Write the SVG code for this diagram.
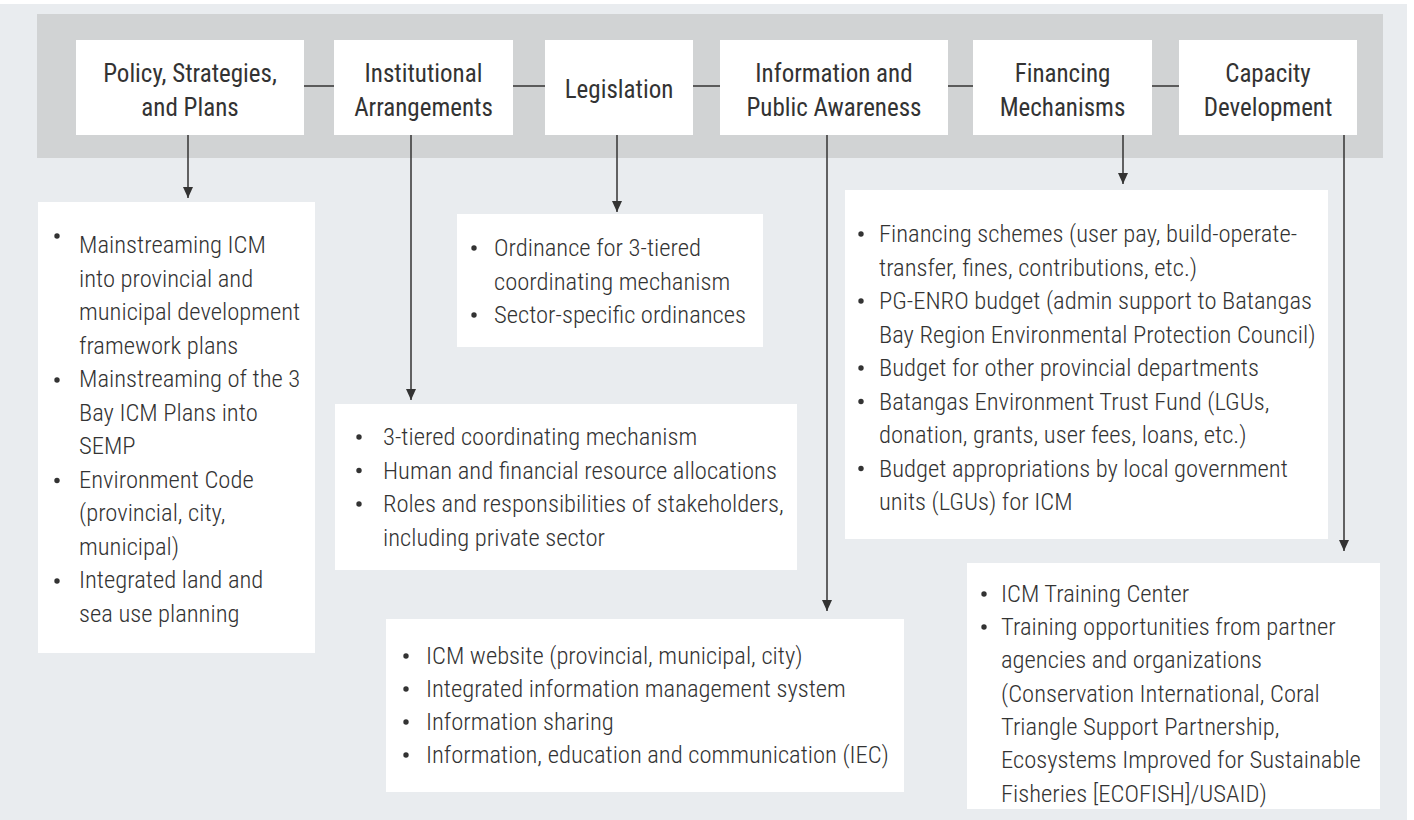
<svg xmlns="http://www.w3.org/2000/svg" width="1414" height="820" viewBox="0 0 1414 820">
<style>
.bg{fill:#e9ecef}
.band{fill:#d1d3d4}
.box{fill:#ffffff}
.hd{font-family:Roboto,"Liberation Sans",sans-serif;font-size:25px;font-weight:400;font-stretch:condensed;fill:#333333;text-anchor:middle}
.tx{font-family:Roboto,"Liberation Sans",sans-serif;font-size:24.6px;font-weight:300;font-stretch:condensed;fill:#333333}
.bl{fill:#333333}
.ln{stroke:#333333;stroke-width:1.5;fill:none}
.ar{stroke:#333333;stroke-width:1.5;fill:none;marker-end:url(#ah)}
</style>
<defs>
<marker id="ah" markerUnits="userSpaceOnUse" markerWidth="12" markerHeight="12" viewBox="0 0 12 12" refX="11" refY="6" orient="auto">
<path d="M0,1 L11,6 L0,11 z" fill="#333333"/>
</marker>
</defs>
<rect class="bg" x="0" y="4" width="1407" height="816"/>
<rect class="band" x="37" y="14" width="1346" height="144"/>

<g id="connectors">
<line class="ln" x1="304" y1="86" x2="334" y2="86"/>
<line class="ln" x1="513" y1="86" x2="545" y2="86"/>
<line class="ln" x1="693" y1="86" x2="720" y2="86"/>
<line class="ln" x1="948" y1="86" x2="973" y2="86"/>
<line class="ln" x1="1152" y1="86" x2="1179" y2="86"/>
<line class="ar" x1="188" y1="135" x2="188" y2="198"/>
<line class="ar" x1="411" y1="135" x2="411" y2="400"/>
<line class="ar" x1="617" y1="135" x2="617" y2="212"/>
<line class="ar" x1="827" y1="135" x2="827" y2="611"/>
<line class="ar" x1="1123" y1="135" x2="1123" y2="184"/>
<line class="ar" x1="1344" y1="135" x2="1344" y2="551"/>
</g>

<g id="node-policy">
<rect class="box" x="76" y="40" width="228" height="95"/>
<text class="hd" x="190" y="82">Policy, Strategies,</text>
<text class="hd" x="190" y="116">and Plans</text>
</g>
<g id="node-institutional">
<rect class="box" x="334" y="40" width="179" height="95"/>
<text class="hd" x="423.5" y="82">Institutional</text>
<text class="hd" x="423.5" y="116">Arrangements</text>
</g>
<g id="node-legislation">
<rect class="box" x="545" y="40" width="148" height="95"/>
<text class="hd" x="619" y="98">Legislation</text>
</g>
<g id="node-information">
<rect class="box" x="720" y="40" width="228" height="95"/>
<text class="hd" x="834" y="82">Information and</text>
<text class="hd" x="834" y="116">Public Awareness</text>
</g>
<g id="node-financing">
<rect class="box" x="973" y="40" width="179" height="95"/>
<text class="hd" x="1062.5" y="82">Financing</text>
<text class="hd" x="1062.5" y="116">Mechanisms</text>
</g>
<g id="node-capacity">
<rect class="box" x="1179" y="40" width="178" height="95"/>
<text class="hd" x="1268" y="82">Capacity</text>
<text class="hd" x="1268" y="116">Development</text>
</g>

<g id="list-policy">
<rect class="box" x="38" y="202" width="277" height="451"/>
<circle class="bl" cx="57" cy="236" r="2.7"/>
<circle class="bl" cx="57" cy="380" r="2.7"/>
<circle class="bl" cx="57" cy="480.5" r="2.7"/>
<circle class="bl" cx="57" cy="581" r="2.7"/>
<text class="tx">
<tspan x="79" y="253">Mainstreaming ICM</tspan>
<tspan x="79" y="286.5">into provincial and</tspan>
<tspan x="79" y="320">municipal development</tspan>
<tspan x="79" y="353.5">framework plans</tspan>
<tspan x="79" y="387">Mainstreaming of the 3</tspan>
<tspan x="79" y="420.5">Bay ICM Plans into</tspan>
<tspan x="79" y="454">SEMP</tspan>
<tspan x="79" y="487.5">Environment Code</tspan>
<tspan x="79" y="521">(provincial, city,</tspan>
<tspan x="79" y="554.5">municipal)</tspan>
<tspan x="79" y="588">Integrated land and</tspan>
<tspan x="79" y="621.5">sea use planning</tspan>
</text>
</g>

<g id="list-legislation">
<rect class="box" x="457" y="214" width="306" height="133"/>
<circle class="bl" cx="474" cy="248" r="2.7"/>
<circle class="bl" cx="474" cy="315" r="2.7"/>
<text class="tx">
<tspan x="494" y="256">Ordinance for 3-tiered</tspan>
<tspan x="494" y="289.5">coordinating mechanism</tspan>
<tspan x="494" y="323">Sector-specific ordinances</tspan>
</text>
</g>

<g id="list-institutional">
<rect class="box" x="335" y="404" width="462" height="166"/>
<circle class="bl" cx="359" cy="437" r="2.7"/>
<circle class="bl" cx="359" cy="470.5" r="2.7"/>
<circle class="bl" cx="359" cy="504" r="2.7"/>
<text class="tx">
<tspan x="383" y="445">3-tiered coordinating mechanism</tspan>
<tspan x="383" y="478.5">Human and financial resource allocations</tspan>
<tspan x="383" y="512">Roles and responsibilities of stakeholders,</tspan>
<tspan x="383" y="545.5">including private sector</tspan>
</text>
</g>

<g id="list-information">
<rect class="box" x="386" y="619" width="518" height="173"/>
<circle class="bl" cx="406" cy="656" r="2.7"/>
<circle class="bl" cx="406" cy="689" r="2.7"/>
<circle class="bl" cx="406" cy="722" r="2.7"/>
<circle class="bl" cx="406" cy="755" r="2.7"/>
<text class="tx">
<tspan x="426" y="664">ICM website (provincial, municipal, city)</tspan>
<tspan x="426" y="697">Integrated information management system</tspan>
<tspan x="426" y="730">Information sharing</tspan>
<tspan x="426" y="763">Information, education and communication (IEC)</tspan>
</text>
</g>

<g id="list-financing">
<rect class="box" x="845" y="190" width="483" height="349"/>
<circle class="bl" cx="861" cy="234" r="2.7"/>
<circle class="bl" cx="861" cy="301" r="2.7"/>
<circle class="bl" cx="861" cy="368" r="2.7"/>
<circle class="bl" cx="861" cy="401.5" r="2.7"/>
<circle class="bl" cx="861" cy="468.5" r="2.7"/>
<text class="tx">
<tspan x="879" y="242">Financing schemes (user pay, build-operate-</tspan>
<tspan x="879" y="275.5">transfer, fines, contributions, etc.)</tspan>
<tspan x="879" y="309">PG-ENRO budget (admin support to Batangas</tspan>
<tspan x="879" y="342.5">Bay Region Environmental Protection Council)</tspan>
<tspan x="879" y="376">Budget for other provincial departments</tspan>
<tspan x="879" y="409.5">Batangas Environment Trust Fund (LGUs,</tspan>
<tspan x="879" y="443">donation, grants, user fees, loans, etc.)</tspan>
<tspan x="879" y="476.5">Budget appropriations by local government</tspan>
<tspan x="879" y="510">units (LGUs) for ICM</tspan>
</text>
</g>

<g id="list-capacity">
<rect class="box" x="967" y="563" width="413" height="246"/>
<circle class="bl" cx="984" cy="594" r="2.7"/>
<circle class="bl" cx="984" cy="627" r="2.7"/>
<text class="tx">
<tspan x="1001" y="602">ICM Training Center</tspan>
<tspan x="1001" y="635">Training opportunities from partner</tspan>
<tspan x="1001" y="668">agencies and organizations</tspan>
<tspan x="1001" y="701.5">(Conservation International, Coral</tspan>
<tspan x="1001" y="735">Triangle Support Partnership,</tspan>
<tspan x="1001" y="768">Ecosystems Improved for Sustainable</tspan>
<tspan x="1001" y="801.5">Fisheries [ECOFISH]/USAID)</tspan>
</text>
</g>
</svg>
